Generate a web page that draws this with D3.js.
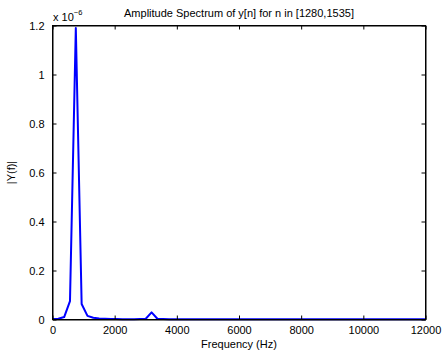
<!DOCTYPE html>
<html>
<head>
<meta charset="utf-8">
<script src="https://cdn.jsdelivr.net/npm/d3@7"></script>
<style>
  body { margin: 0; background: #fff; }
  text { font-family: "Liberation Sans", Arial, sans-serif; fill: #000; }
</style>
</head>
<body>
<script>
// Amplitude spectrum plot
const titleText = "Amplitude Spectrum of y[n] for n in [1280,1535]";
const xLabel = "Frequency (Hz)";
const yLabel = "|Y(f)|";

// Frequency bins (Hz), step 187.5
const freqs = [
    0, 187.5, 375, 562.5, 750, 937.5, 1125, 1312.5, 1500, 1687.5,
    1875, 2062.5, 2250, 2437.5, 2625, 2812.5, 3000, 3187.5, 3375, 3562.5,
    3750, 3937.5, 4125, 4312.5, 4500, 4687.5, 4875, 5062.5, 5250, 5437.5,
    5625, 5812.5, 6000, 6187.5, 6375, 6562.5, 6750, 6937.5, 7125, 7312.5,
    7500, 7687.5, 7875, 8062.5, 8250, 8437.5, 8625, 8812.5, 9000, 9187.5,
    9375, 9562.5, 9750, 9937.5, 10125, 10312.5, 10500, 10687.5, 10875, 11062.5,
    11250, 11437.5, 11625, 11812.5, 12000
];

// |Y(f)| in units of 1e-6
const amps = [
    0.002, 0.003, 0.010, 0.075, 1.19, 0.063, 0.015, 0.007, 0.004, 0.003,
    0.002, 0.002, 0.0015, 0.0015, 0.0015, 0.002, 0.003, 0.029, 0.003, 0.002,
    0.0015, 0.001, 0.001, 0.001, 0.001, 0.001, 0.001, 0.001, 0.001, 0.001,
    0.001, 0.001, 0.001, 0.001, 0.001, 0.001, 0.001, 0.001, 0.001, 0.001,
    0.001, 0.001, 0.001, 0.001, 0.001, 0.001, 0.001, 0.001, 0.001, 0.001,
    0.001, 0.001, 0.001, 0.001, 0.001, 0.001, 0.001, 0.001, 0.001, 0.001,
    0.001, 0.001, 0.001, 0.001, 0.001
];

const xTicks = [0, 2000, 4000, 6000, 8000, 10000, 12000];
const yTicks = [0, 0.2, 0.4, 0.6, 0.8, 1, 1.2];

(function() {
    const W = 442, H = 354;
    const left = 52.5, right = 425.5, top = 25.5, bottom = 319.5;

    const svg = d3.select("body").append("svg")
        .attr("width", W)
        .attr("height", H);

    const x = d3.scaleLinear().domain([0, 12000]).range([left, right]);
    const y = d3.scaleLinear().domain([0, 1.2]).range([bottom, top]);

    // Spectrum line
    const data = freqs.map((f, i) => ({ f: f, a: amps[i] }));
    svg.append("path")
        .datum(data)
        .attr("fill", "none")
        .attr("stroke", "#0000ff")
        .attr("stroke-width", 2)
        .attr("stroke-linejoin", "round")
        .attr("d", d3.line().x(d => x(d.f)).y(d => y(d.a)));

    // Axes (ticks pointing inward, MATLAB style)
    const fmtY = d => d === 0 ? "0" : String(d);
    svg.append("g")
        .attr("transform", "translate(0," + bottom + ")")
        .call(d3.axisBottom(x).tickValues(xTicks).tickSizeInner(-4).tickSizeOuter(0).tickPadding(7).tickFormat(d3.format("d")));
    svg.append("g")
        .attr("transform", "translate(0," + top + ")")
        .call(d3.axisTop(x).tickValues(xTicks).tickSizeInner(-4).tickSizeOuter(0).tickFormat(""));
    svg.append("g")
        .attr("transform", "translate(" + left + ",0)")
        .call(d3.axisLeft(y).tickValues(yTicks).tickSizeInner(-4).tickSizeOuter(0).tickPadding(8).tickFormat(fmtY));
    svg.append("g")
        .attr("transform", "translate(" + right + ",0)")
        .call(d3.axisRight(y).tickValues(yTicks).tickSizeInner(-4).tickSizeOuter(0).tickFormat(""));

    svg.selectAll(".domain").attr("stroke", "#000");
    svg.selectAll(".tick line").attr("stroke", "#000");
    svg.selectAll(".tick text").attr("font-size", 11).attr("font-family", "Liberation Sans, Arial, sans-serif");

    // Box
    svg.append("rect")
        .attr("x", left).attr("y", top)
        .attr("width", right - left).attr("height", bottom - top)
        .attr("fill", "none").attr("stroke", "#000");

    // Exponent label
    const ex = svg.append("text")
        .attr("x", 53).attr("y", 21)
        .attr("font-size", 11);
    ex.append("tspan").text("x 10");
    ex.append("tspan").attr("font-size", 7.5).attr("dy", -6).text("\u22126");

    // Title
    svg.append("text")
        .attr("x", (left + right) / 2).attr("y", 17)
        .attr("text-anchor", "middle")
        .attr("font-size", 11)
        .text(titleText);

    // Axis labels
    svg.append("text")
        .attr("x", (left + right) / 2).attr("y", 348)
        .attr("text-anchor", "middle")
        .attr("font-size", 11)
        .text(xLabel);
    svg.append("text")
        .attr("transform", "translate(15," + ((top + bottom) / 2) + ") rotate(-90)")
        .attr("text-anchor", "middle")
        .attr("font-size", 11)
        .text(yLabel);
})();
</script>
</body>
</html>
